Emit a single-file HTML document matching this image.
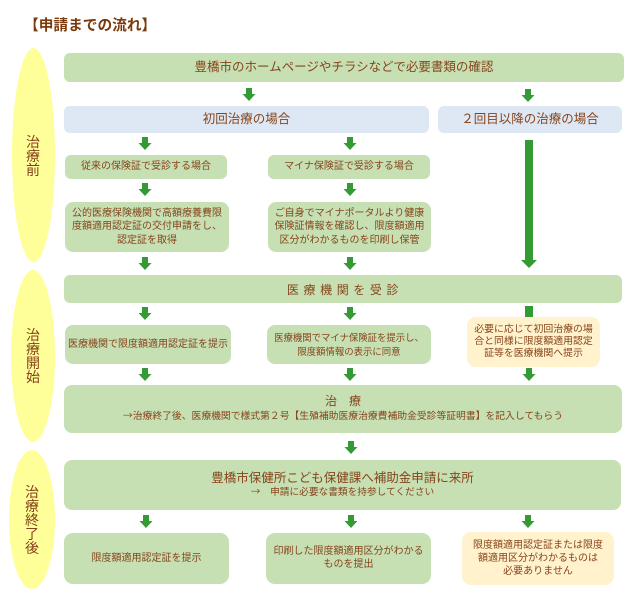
<!DOCTYPE html>
<html><head><meta charset="utf-8">
<style>
html,body{margin:0;padding:0;}
body{width:640px;height:612px;background:#fff;position:relative;overflow:hidden;font-family:"Liberation Sans","Noto Sans CJK JP",sans-serif;color:#87441b;}
.b{position:absolute;display:flex;flex-direction:column;align-items:center;justify-content:center;text-align:center;border-radius:6px;box-sizing:border-box;white-space:nowrap;}
.g{background:#c6e0b4;}
.bl{background:#dde8f4;}
.y{background:#fff2cc;border-radius:9px;}
.s{font-size:10px;line-height:13.5px;}
.m{font-size:12.5px;line-height:15px;}
.el{position:absolute;font-size:14px;line-height:14px;text-align:center;width:20px;color:#85401a;}
.cj{font-family:"Noto Sans CJK JP",sans-serif;}
svg{position:absolute;left:0;top:0;}
</style></head>
<body>
<svg width="640" height="612" viewBox="0 0 640 612">
  <ellipse cx="33.5" cy="155" rx="21.5" ry="107" fill="#ffff99"/>
  <ellipse cx="33" cy="356" rx="22" ry="86" fill="#ffff99"/>
  <ellipse cx="32" cy="519.5" rx="23" ry="69.5" fill="#ffff99"/>
  <g fill="#349a34">
    <polygon points="525,140 533,140 533,260 537,260 529,268 521,260 525,260"/>
    <rect x="525" y="306" width="8" height="11"/>
  </g>
</svg>

<div style="position:absolute;left:24px;top:15px;font-size:14.7px;font-weight:bold;color:#7a3a0c;line-height:22px;white-space:nowrap;">【申請までの流れ】</div>

<div class="el" style="left:23px;top:135px;">治<br>療<br>前</div>
<div class="el" style="left:23px;top:328px;">治<br>療<br>開<br>始</div>
<div class="el" style="left:22px;top:485px;">治<br>療<br>終<br>了<br>後</div>

<div class="b g m" style="left:64px;top:53px;width:560px;height:29px;">豊橋市のホームページやチラシなどで必要書類の確認</div>
<div class="b bl m" style="left:64px;top:106px;width:365px;height:27px;">初回治療の場合</div>
<div class="b bl m" style="left:438px;top:106px;width:184px;height:27px;">２回目以降の治療の場合</div>

<div class="b g s" style="left:65px;top:155px;width:162px;height:24px;">従来の保険証で受診する場合</div>
<div class="b g s" style="left:268px;top:155px;width:162px;height:24px;">マイナ保険証で受診する場合</div>

<div class="b g s" style="left:65px;top:202px;width:164px;height:50px;border-radius:8px;">公的医療保険機関で高額療養費限<br>度額適用認定証の交付申請をし、<br>認定証を取得</div>
<div class="b g s" style="left:268px;top:202px;width:163px;height:50px;border-radius:8px;">ご自身でマイナポータルより健康<br>保険証情報を確認し、限度額適用<br>区分がわかるものを印刷し保管</div>

<div class="b g" style="left:64px;top:275px;width:558px;height:28px;font-size:12px;letter-spacing:4.6px;padding-left:4px;">医療機関を受診</div>

<div class="b g s" style="left:65px;top:325px;width:166px;height:39px;border-radius:8px;">医療機関で限度額適用認定証を提示</div>
<div class="b g" style="left:267px;top:325px;width:164px;height:39px;border-radius:8px;font-size:9.4px;line-height:14px;">医療機関でマイナ保険証を提示し、<br>限度額情報の表示に同意</div>
<div class="b y" style="left:467px;top:317px;width:133px;height:50px;font-size:9.9px;line-height:12.3px;">必要に応じて初回治療の場<br>合と同様に限度額適用認定<br>証等を医療機関へ提示</div>

<div class="b g" style="left:64px;top:385px;width:558px;height:48px;border-radius:8px;">
  <div style="font-size:12px;line-height:14px;">治　療</div>
  <div style="font-size:9.8px;line-height:14px;"><span class="cj">→</span>治療終了後、医療機関で様式第２号【生殖補助医療治療費補助金受診等証明書】を記入してもらう</div>
</div>

<div class="b g" style="left:64px;top:460px;width:557px;height:50px;border-radius:8px;">
  <div style="font-size:12.5px;line-height:14px;">豊橋市保健所こども保健課へ補助金申請に来所</div>
  <div style="font-size:9.7px;line-height:13px;"><span class="cj">→</span>　申請に必要な書類を持参してください</div>
</div>

<div class="b g s" style="left:64px;top:533px;width:165px;height:51px;border-radius:9px;">限度額適用認定証を提示</div>
<div class="b g s" style="left:266px;top:533px;width:165px;height:51px;border-radius:9px;line-height:12.5px;">印刷した限度額適用区分がわかる<br>ものを提出</div>
<div class="b y s" style="left:462px;top:532px;width:152px;height:53px;line-height:13px;">限度額適用認定証または限度<br>額適用区分がわかるものは<br>必要ありません</div>

<svg width="640" height="612" viewBox="0 0 640 612">
  <defs>
    <polygon id="ar" points="-3,0 3,0 3,6 6.5,6 0,13 -6.5,6 -3,6" fill="#349a34"/>
  </defs>
  <use href="#ar" x="249" y="88"/>
  <use href="#ar" x="528" y="89"/>
  <use href="#ar" x="145" y="137"/>
  <use href="#ar" x="350" y="137"/>
  <use href="#ar" x="145" y="183"/>
  <use href="#ar" x="350" y="183"/>
  <use href="#ar" x="145" y="257"/>
  <use href="#ar" x="350" y="257"/>
  <use href="#ar" x="145" y="307"/>
  <use href="#ar" x="350" y="307"/>
  <use href="#ar" x="145" y="368"/>
  <use href="#ar" x="350" y="368"/>
  <use href="#ar" x="529" y="368"/>
  <use href="#ar" x="351" y="441"/>
  <use href="#ar" x="146" y="515"/>
  <use href="#ar" x="351" y="515"/>
  <use href="#ar" x="528" y="515"/>
</svg>
</body></html>
